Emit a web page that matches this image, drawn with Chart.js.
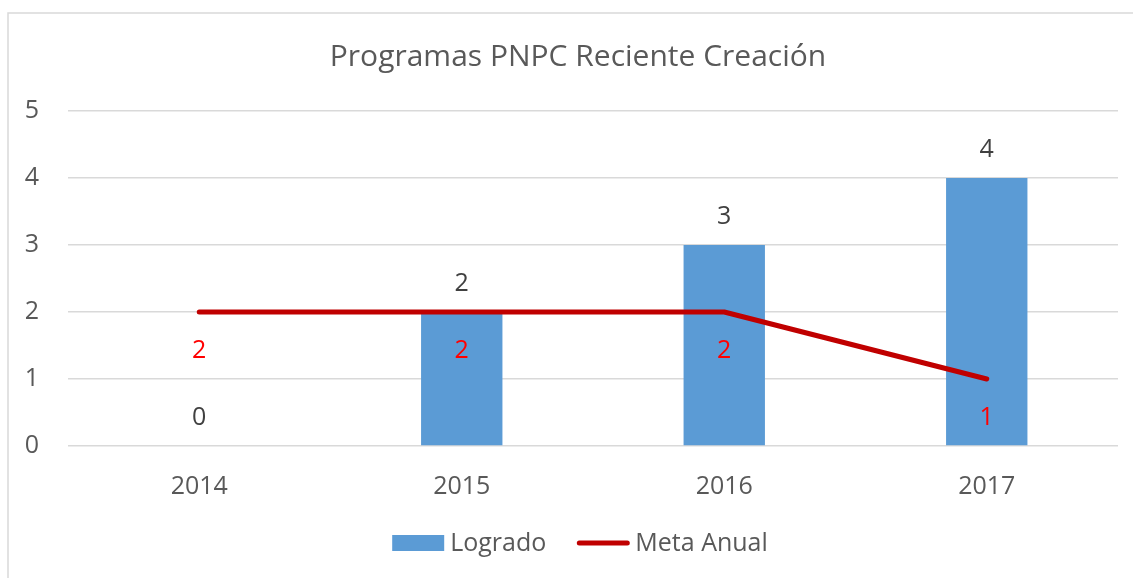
<!DOCTYPE html>
<html>
<head>
<meta charset="utf-8">
<script src="https://cdn.jsdelivr.net/npm/chart.js@4"></script>
<style>
  html, body { margin: 0; padding: 0; background: #ffffff; }
  #wrap { position: relative; width: 1133px; height: 578px; }
</style>
</head>
<body>
<div id="wrap"><canvas id="c" width="1133" height="578"></canvas></div>
<script>
const categories = ['2014', '2015', '2016', '2017'];
const logrado = [0, 2, 3, 4];
const metaAnual = [2, 2, 2, 1];
const yTicks = [0, 1, 2, 3, 4, 5];

const FONT = "'Open Sans', 'DejaVu Sans', sans-serif";
const GRAY = '#595959';

const framePlugin = {
  id: 'frame',
  beforeDraw(chart) {
    const ctx = chart.ctx;
    ctx.save();
    ctx.fillStyle = '#ffffff';
    ctx.fillRect(0, 0, chart.width, chart.height);
    ctx.strokeStyle = '#d9d9d9';
    ctx.lineWidth = 1.5;
    ctx.beginPath();
    ctx.moveTo(8, chart.height + 2);
    ctx.lineTo(8, 13);
    ctx.lineTo(chart.width + 2, 13);
    ctx.stroke();
    ctx.restore();
  }
};

const titleShiftPlugin = {
  id: 'titleShift',
  afterLayout(chart) {
    if (chart.titleBlock) {
      chart.titleBlock.left = 38;
    }
  }
};

const labelPlugin = {
  id: 'valueLabels',
  afterDatasetsDraw(chart) {
    const ctx = chart.ctx;
    ctx.save();
    ctx.font = '25px ' + FONT;
    ctx.textAlign = 'center';
    ctx.textBaseline = 'middle';
    const barMeta = chart.getDatasetMeta(0);
    barMeta.data.forEach((el, i) => {
      ctx.fillStyle = '#404040';
      ctx.fillText(String(logrado[i]), el.x, el.y - 28);
    });
    const lineMeta = chart.getDatasetMeta(1);
    lineMeta.data.forEach((el, i) => {
      ctx.fillStyle = '#ff0000';
      ctx.fillText(String(metaAnual[i]), el.x, el.y + 39);
    });
    ctx.restore();
  }
};

const legendPlugin = {
  id: 'customLegend',
  afterDraw(chart) {
    const ctx = chart.ctx;
    ctx.save();
    ctx.font = '25px ' + FONT;
    ctx.textBaseline = 'middle';
    ctx.textAlign = 'left';
    const sym = 52, gap = 6, itemGap = 31, cy = 543, cx = 580;
    const items = chart.data.datasets.map(ds => ({
      ds, w: sym + gap + ctx.measureText(ds.label).width
    }));
    const total = items.reduce((a, it) => a + it.w, 0) + itemGap * (items.length - 1);
    let x = cx - total / 2;
    items.forEach(it => {
      const ds = it.ds;
      if (ds.type === 'bar') {
        ctx.fillStyle = ds.backgroundColor;
        ctx.fillRect(x, cy - 8, sym, 16);
      } else {
        ctx.strokeStyle = ds.borderColor;
        ctx.lineWidth = 5;
        ctx.lineCap = 'round';
        ctx.beginPath();
        ctx.moveTo(x + 2, cy);
        ctx.lineTo(x + sym - 2, cy);
        ctx.stroke();
      }
      ctx.fillStyle = GRAY;
      ctx.fillText(ds.label, x + sym + gap, cy + 1);
      x += it.w + itemGap;
    });
    ctx.restore();
  }
};

new Chart(document.getElementById('c'), {
  data: {
    labels: categories,
    datasets: [
      {
        type: 'bar',
        label: 'Logrado',
        data: logrado,
        backgroundColor: '#5b9bd5',
        borderWidth: 0,
        categoryPercentage: 1,
        barPercentage: 0.31,
        order: 2
      },
      {
        type: 'line',
        label: 'Meta Anual',
        data: metaAnual,
        borderColor: '#c00000',
        backgroundColor: '#c00000',
        borderWidth: 5,
        borderCapStyle: 'round',
        borderJoinStyle: 'round',
        pointRadius: 0,
        pointHoverRadius: 0,
        tension: 0,
        fill: false,
        order: 1
      }
    ]
  },
  options: {
    responsive: false,
    animation: false,
    devicePixelRatio: 1,
    layout: { padding: { left: 0, right: 15, top: 0, bottom: 57 } },
    scales: {
      x: {
        grid: { display: false },
        border: { display: false },
        ticks: { color: GRAY, font: { family: FONT, size: 25 }, padding: 18 },
        afterFit(s) { s.height = 75; }
      },
      y: {
        min: 0,
        max: 5,
        grid: { color: '#d9d9d9', lineWidth: 1.5, drawTicks: false },
        border: { display: false },
        afterBuildTicks(s) { s.ticks = yTicks.map(v => ({ value: v })); },
        ticks: { color: GRAY, font: { family: FONT, size: 25 }, padding: 29 },
        afterFit(s) { s.width = 68; }
      }
    },
    plugins: {
      title: {
        display: true,
        text: 'Programas PNPC Reciente Creación',
        color: GRAY,
        font: { family: FONT, size: 30, weight: 'normal' },
        padding: { top: 39, bottom: 36 }
      },
      legend: { display: false },
      tooltip: { enabled: false }
    }
  },
  plugins: [framePlugin, titleShiftPlugin, labelPlugin, legendPlugin]
});
</script>
</body>
</html>
